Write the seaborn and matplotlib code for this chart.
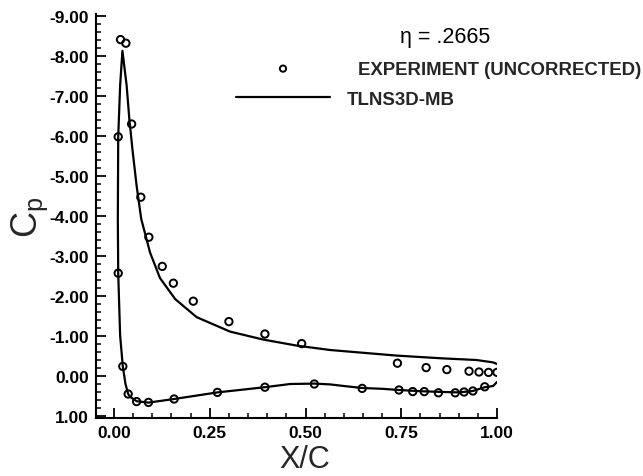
import matplotlib
matplotlib.use("Agg")
import matplotlib.pyplot as plt
import seaborn as sns
import pandas as pd
from matplotlib.ticker import MultipleLocator, FuncFormatter

# ---------------- data ----------------
exp_upper_x = [0.017, 0.031, 0.046, 0.070, 0.091, 0.126, 0.155, 0.207, 0.300,
               0.394, 0.490, 0.740, 0.815, 0.869, 0.927, 0.953, 0.978, 1.000]
exp_upper_cp = [-8.41, -8.32, -6.30, -4.47, -3.47, -2.74, -2.32, -1.87, -1.36,
                -1.05, -0.81, -0.32, -0.21, -0.16, -0.12, -0.10, -0.09, -0.09]
exp_lower_x = [0.011, 0.011, 0.023, 0.037, 0.059, 0.090, 0.157, 0.270, 0.394,
               0.523, 0.648, 0.744, 0.780, 0.810, 0.847, 0.891, 0.914, 0.937, 0.968]
exp_lower_cp = [-5.98, -2.57, -0.24, 0.45, 0.64, 0.66, 0.575, 0.41, 0.28,
                0.20, 0.31, 0.35, 0.39, 0.39, 0.42, 0.42, 0.40, 0.375, 0.27]

cfd_x = [1.000, 0.990, 0.968, 0.937, 0.900, 0.860, 0.800, 0.744, 0.700, 0.648,
         0.600, 0.564, 0.523, 0.460, 0.394, 0.270, 0.157, 0.090, 0.059, 0.042,
         0.037, 0.030, 0.023, 0.016, 0.011, 0.010, 0.011, 0.016, 0.022,
         0.033, 0.040, 0.049, 0.059, 0.071, 0.094, 0.120, 0.160, 0.216, 0.303,
         0.390, 0.477, 0.564, 0.738, 0.859, 0.946, 0.990, 1.000]
cfd_cp = [0.15, 0.25, 0.28, 0.375, 0.41, 0.40, 0.38, 0.35, 0.32, 0.30,
          0.25, 0.21, 0.19, 0.20, 0.28, 0.41, 0.575, 0.665, 0.63, 0.52,
          0.45, 0.20, -0.24, -1.01, -2.57, -3.93, -5.98, -7.26, -8.13,
          -7.26, -6.43, -5.59, -4.76, -3.93, -3.09, -2.45, -1.92, -1.47, -1.11,
          -0.91, -0.76, -0.65, -0.51, -0.44, -0.40, -0.34, -0.30]

x_ticks = [0.0, 0.25, 0.50, 0.75, 1.00]
y_ticks = [-9, -8, -7, -6, -5, -4, -3, -2, -1, 0, 1]
eta_label = "η = .2665"
exp_label = "EXPERIMENT (UNCORRECTED)"
cfd_label = "TLNS3D-MB"
x_label = "X/C"
y_label = r"$\mathregular{C_p}$"

# ---------------- style ----------------
sns.set_style("ticks")
plt.rcParams["font.family"] = ["Liberation Sans", "DejaVu Sans"]
plt.rcParams["mathtext.fontset"] = "custom"
plt.rcParams["mathtext.rm"] = "Liberation Sans"

W, H = 643, 477
fig = plt.figure(figsize=(W / 100, H / 100), dpi=100)
ax = fig.add_axes([96 / W, 58 / H, 401 / W, 404 / H])

exp_df = pd.DataFrame({"x": exp_upper_x + exp_lower_x,
                       "cp": exp_upper_cp + exp_lower_cp})
cfd_df = pd.DataFrame({"x": cfd_x, "cp": cfd_cp})

sns.lineplot(data=cfd_df, x="x", y="cp", sort=False, estimator=None,
             color="black", linewidth=1.6, ax=ax, zorder=2)
sns.scatterplot(data=exp_df, x="x", y="cp", marker="o", s=28,
                facecolor="none", edgecolor="black", linewidth=1.4,
                ax=ax, zorder=3)

ax.set_xlim(-0.047, 1.0)
ax.set_ylim(1.05, -9.05)

ax.set_xticks(x_ticks)
ax.xaxis.set_minor_locator(MultipleLocator(0.05))
ax.set_yticks(y_ticks)
ax.yaxis.set_minor_locator(MultipleLocator(0.2))
fmt = FuncFormatter(lambda v, p: f"{v:.2f}")
ax.xaxis.set_major_formatter(fmt)
ax.yaxis.set_major_formatter(fmt)

ax.tick_params(which="major", direction="in", length=7, width=1.3,
               labelsize=12.5, color="black", labelcolor="black", pad=5)
ax.tick_params(which="minor", direction="in", length=3.5, width=1.1,
               color="black")
for lbl in ax.get_xticklabels() + ax.get_yticklabels():
    lbl.set_fontweight("bold")

for side in ["top", "right"]:
    ax.spines[side].set_visible(False)
for side in ["left", "bottom"]:
    ax.spines[side].set_linewidth(1.5)
    ax.spines[side].set_color("black")

ax.set_xlabel(x_label, fontsize=22)
ax.xaxis.set_label_coords(0.52, -0.064)
ax.set_ylabel(y_label, fontsize=26)
ax.yaxis.set_label_coords(-0.115, 0.5)

# legend
line_h = ax.lines[0]
scat_h = ax.collections[0]
fs = 13.4
leg1 = ax.legend(handles=[scat_h], labels=[exp_label], loc="center left",
                 bbox_to_anchor=(236 / W, 1 - 70 / H),
                 bbox_transform=fig.transFigure, frameon=False,
                 handlelength=5.05, handletextpad=1.5, borderpad=0,
                 borderaxespad=0, scatterpoints=1, markerscale=0.85,
                 prop={"size": fs, "weight": "bold"})
ax.add_artist(leg1)
ax.legend(handles=[line_h], labels=[cfd_label], loc="center left",
          bbox_to_anchor=(236 / W, 1 - 100 / H),
          bbox_transform=fig.transFigure, frameon=False,
          handlelength=5.05, handletextpad=0.91, borderpad=0,
          borderaxespad=0, prop={"size": fs, "weight": "bold"})

fig.text(400 / W, 1 - 37 / H, eta_label, ha="left", va="center",
         fontsize=15.5, color="black")

fig.savefig("out.png", dpi=100)
